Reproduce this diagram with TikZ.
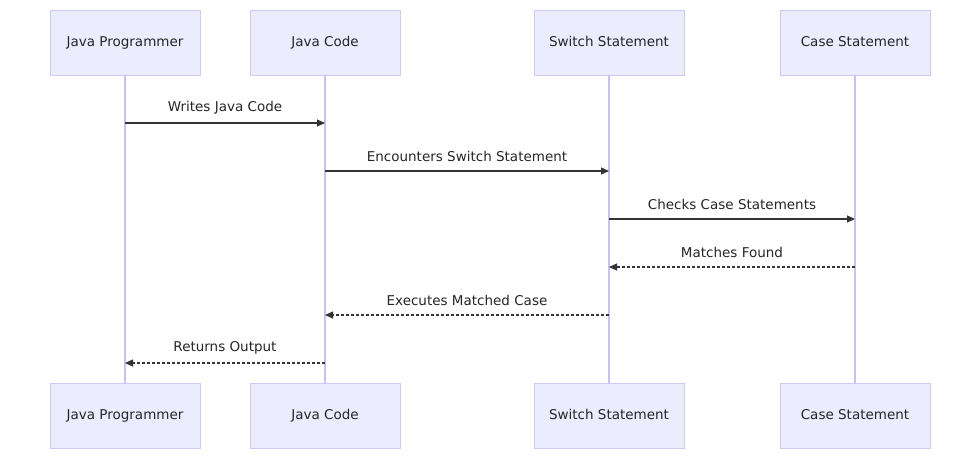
\documentclass[tikz,border=0pt]{standalone}
\usepackage{fontspec}
\setmainfont{DejaVu Sans}
\usetikzlibrary{arrows.meta}
\begin{document}
\begin{tikzpicture}[x=1pt,y=-1pt,
    actor/.style={draw=actorline,fill=actorfill,minimum width=150pt,minimum height=65pt,text height=10pt,text depth=3pt,font=\fontsize{13.5}{15}\selectfont,text=black!85},
    life/.style={draw=lifeline,line width=1.3pt},
    msg/.style={-{Triangle[length=8pt,width=7pt]},draw=msgcol,line width=1.1pt},
    reply/.style={msg,dash pattern=on 3pt off 2pt},
    lbl/.style={above=5pt,font=\fontsize{13.5}{15}\selectfont,text=black!85}]
    \definecolor{actorfill}{HTML}{ECECFF}
    \definecolor{actorline}{HTML}{CFC8F4}
    \definecolor{lifeline}{HTML}{CDBFF0}
    \definecolor{msgcol}{HTML}{333333}
    \useasboundingbox (0,0) rectangle (980,459);
    %participants
    \node [actor] (prog) at (125,42.5) {Java Programmer};
    \node [actor] (code) at (325,42.5) {Java Code};
    \node [actor] (switch) at (609,42.5) {Switch Statement};
    \node [actor] (case) at (855,42.5) {Case Statement};
    \node [actor] (progB) at (125,415.5) {Java Programmer};
    \node [actor] (codeB) at (325,415.5) {Java Code};
    \node [actor] (switchB) at (609,415.5) {Switch Statement};
    \node [actor] (caseB) at (855,415.5) {Case Statement};
    %lifelines
    \foreach \p in {prog,code,switch,case}
        \draw [life] (\p) -- (\p B);
    %message points
    \coordinate (m1s) at (125,123); \coordinate (m1e) at (325,123);
    \coordinate (m2s) at (325,171); \coordinate (m2e) at (609,171);
    \coordinate (m3s) at (609,219); \coordinate (m3e) at (855,219);
    \coordinate (m4s) at (855,267); \coordinate (m4e) at (609,267);
    \coordinate (m5s) at (609,315); \coordinate (m5e) at (325,315);
    \coordinate (m6s) at (325,363); \coordinate (m6e) at (125,363);
    %messages
    \draw [msg] (m1s) -- node[lbl]{Writes Java Code} (m1e);
    \draw [msg] (m2s) -- node[lbl]{Encounters Switch Statement} (m2e);
    \draw [msg] (m3s) -- node[lbl]{Checks Case Statements} (m3e);
    \draw [reply] (m4s) -- node[lbl]{Matches Found} (m4e);
    \draw [reply] (m5s) -- node[lbl]{Executes Matched Case} (m5e);
    \draw [reply] (m6s) -- node[lbl]{Returns Output} (m6e);
\end{tikzpicture}
\end{document}
